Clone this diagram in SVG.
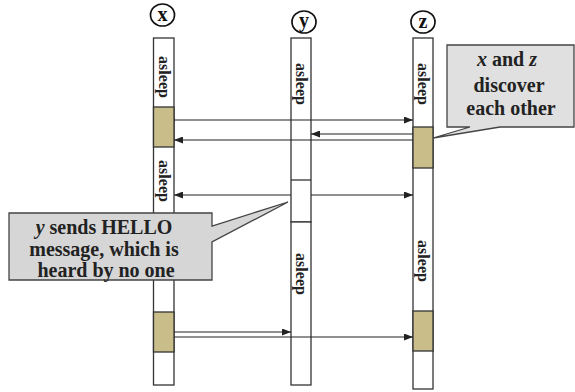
<svg xmlns="http://www.w3.org/2000/svg" width="575" height="392" viewBox="0 0 575 392">
<style>
.col{fill:#fff;stroke:#333;stroke-width:1.3}
.awake{fill:#c9bd8a;stroke:#333;stroke-width:1.3}
.lbl{font-family:"Liberation Serif","Times New Roman",serif;font-weight:bold;font-size:16px;fill:#222;text-anchor:middle}
.hdr{font-family:"Liberation Serif","Times New Roman",serif;font-weight:bold;font-size:20px;fill:#111;text-anchor:middle}
.ring{fill:none;stroke:#111;stroke-width:1.7}
.call{fill:#d6d6d6;stroke:#444;stroke-width:1.3}
.ct{font-family:"Liberation Serif","Times New Roman",serif;font-weight:bold;font-size:20px;fill:#222;text-anchor:middle}
.msg{fill:none;stroke:#222;stroke-width:1.2;marker-end:url(#ah)}
</style>
<defs>
<marker id="ah" markerUnits="userSpaceOnUse" markerWidth="9" markerHeight="7" refX="9" refY="3.5" orient="auto">
<path d="M0,0 L9,3.5 L0,7 Z" fill="#222"/>
</marker>
</defs>
<g id="node-x">
<ellipse class="ring" cx="162.5" cy="15" rx="12" ry="11"/>
<text class="hdr" x="162.5" y="20.5">x</text>
<rect class="col" x="153.5" y="38" width="20.5" height="347"/>
<rect class="awake" x="153.5" y="107" width="20.5" height="40"/>
<rect class="awake" x="153.5" y="312" width="20.5" height="40"/>
<text class="lbl" transform="translate(163.7,77) rotate(90)" dy="5">asleep</text>
<text class="lbl" transform="translate(163.7,181) rotate(90)" dy="5">asleep</text>
</g>
<g id="node-y">
<ellipse class="ring" cx="304" cy="22" rx="12" ry="11"/>
<text class="hdr" x="304" y="27">y</text>
<rect class="col" x="291" y="38" width="20" height="184"/>
<line x1="291" y1="180" x2="311" y2="180" stroke="#333" stroke-width="1.3"/>
<rect class="col" x="291" y="222" width="20" height="163" stroke-width="2"/>
<text class="lbl" transform="translate(301,84) rotate(90)" dy="5">asleep</text>
<text class="lbl" transform="translate(301,274) rotate(90)" dy="5">asleep</text>
</g>
<g id="node-z">
<ellipse class="ring" cx="423" cy="22" rx="12" ry="11"/>
<text class="hdr" x="423" y="27.5">z</text>
<rect class="col" x="413" y="38" width="20" height="351"/>
<rect class="awake" x="413" y="127" width="20" height="41"/>
<rect class="awake" x="413" y="311" width="20" height="40"/>
<text class="lbl" transform="translate(423,84) rotate(90)" dy="5">asleep</text>
<text class="lbl" transform="translate(423,261) rotate(90)" dy="5">asleep</text>
</g>
<g id="connectors">
<line class="msg" x1="174" y1="120" x2="413" y2="120"/>
<line class="msg" x1="413" y1="134" x2="311" y2="134"/>
<line class="msg" x1="413" y1="140" x2="174" y2="140"/>
<line class="msg" x1="291" y1="195" x2="174" y2="195"/>
<line class="msg" x1="311" y1="195" x2="413" y2="195"/>
<line class="msg" x1="174" y1="332" x2="291" y2="332"/>
<line class="msg" x1="174" y1="337" x2="413" y2="337"/>
</g>
<g id="callout-hello">
<path class="call" d="M9,213 H212 V226 L288,202 L212,242 V280 H9 Z"/>
<text class="ct" x="104" y="234"><tspan font-style="italic">y</tspan> sends HELLO</text>
<text class="ct" x="104" y="256">message, which is</text>
<text class="ct" x="106" y="277">heard by no one</text>
</g>
<g id="callout-discover">
<path class="call" d="M447,45 H574 V127 H500 L433,138 L470,127 H447 Z" style="fill:#e0e0e0"/>
<text class="ct" x="507" y="66"><tspan font-style="italic">x</tspan> and <tspan font-style="italic">z</tspan></text>
<text class="ct" x="509" y="92">discover</text>
<text class="ct" x="511" y="115">each other</text>
</g>
</svg>
